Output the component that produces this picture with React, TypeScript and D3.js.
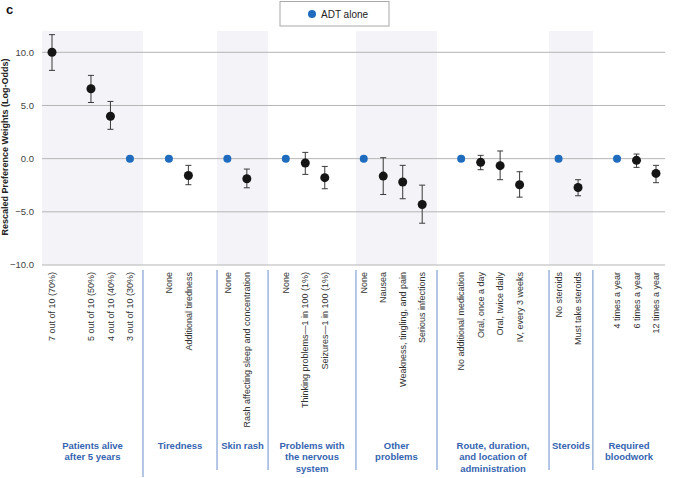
import React from "react";
import * as d3 from "d3";

// ---- data ----
const groupNames = [
  "Patients alive|after 5 years",
  "Tiredness",
  "Skin rash",
  "Problems with|the nervous|system",
  "Other|problems",
  "Route, duration,|and location of|administration",
  "Steroids",
  "Required|bloodwork",
];

const levelLabels = [
  "7 out of 10 (70%)", "", "5 out of 10 (50%)", "4 out of 10 (40%)", "3 out of 10 (30%)",
  "None", "Additional tiredness",
  "None", "Rash affecting sleep and concentration",
  "None", "Thinking problems\u20141 in 100 (1%)", "Seizures\u20141 in 100 (1%)",
  "None", "Nausea", "Weakness, tingling, and pain", "Serious infections",
  "No additional medication", "Oral, once a day", "Oral, twice daily", "IV, every 3 weeks",
  "No steroids", "Must take steroids",
  "4 times a year", "6 times a year", "12 times a year",
];

const levelGroup = [0, 0, 0, 0, 0, 1, 1, 2, 2, 3, 3, 3, 4, 4, 4, 4, 5, 5, 5, 5, 6, 6, 7, 7, 7];

const estimates: (number | null)[] = [
  10.0, null, 6.57, 3.99, 0,
  0, -1.58,
  0, -1.89,
  0, -0.41, -1.79,
  0, -1.64, -2.2, -4.31,
  0, -0.35, -0.66, -2.45,
  0, -2.71,
  0, -0.16, -1.39,
];

const lowerCI: (number | null)[] = [
  8.3, null, 5.28, 2.76, null,
  null, -2.45,
  null, -2.74,
  null, -1.48, -2.83,
  null, -3.37, -3.77, -6.07,
  null, -1.04, -1.98, -3.62,
  null, -3.49,
  null, -0.82, -2.26,
];

const upperCI: (number | null)[] = [
  11.66, null, 7.83, 5.38, null,
  null, -0.63,
  null, -0.98,
  null, 0.59, -0.73,
  null, 0.09, -0.63, -2.49,
  null, 0.31, 0.72, -1.23,
  null, -1.98,
  null, 0.43, -0.63,
];

const isReference = [
  false, false, false, false, true,
  true, false,
  true, false,
  true, false, false,
  true, false, false, false,
  true, false, false, false,
  true, false,
  true, false, false,
];

const yTicks = [10, 5, 0, -5, -10];
const legendLabel = "ADT alone";
const yTitle = "Rescaled Preference Weights (Log-Odds)";
const panelLetter = "c";

// ---- layout ----
const W = 679;
const H = 478;
const FONT = "'Liberation Sans', Arial, Helvetica, sans-serif";
const BLUE = "#1f6cbf";
const GROUP_BLUE = "#3564b0";
const SEP_BLUE = "#8ca8d8";
const BAND = "#f3f3f8";

// divider positions between groups, in slot units
const dividerSlots = [4.67, 8.47, 11.09, 15.6, 19.76, 25.51, 27.76];

export default function App() {
  // slot index for each level: sequential, with one empty slot between groups
  const slots: number[] = [];
  let s = 0;
  levelLabels.forEach((_, i) => {
    if (i > 0 && levelGroup[i] !== levelGroup[i - 1]) s += 1;
    slots.push(s);
    s += 1;
  });
  const lastSlot = slots[slots.length - 1];

  const x = d3.scaleLinear().domain([0, lastSlot]).range([52, 656]);
  const y = d3.scaleLinear().domain([-10, 10]).range([265, 52.3]);

  const plotLeft = x(-0.51);
  const plotRight = x(lastSlot + 0.47);
  const plotTop = y(12);
  const plotBottom = y(-10);

  const bounds = [-0.51, ...dividerSlots, lastSlot + 0.47];

  const labelTop = 272;
  const sepTop = 270;

  return (
    <svg
      width={W}
      height={H}
      style={{ position: "absolute", left: 0, top: 0, background: "#fff" }}
      fontFamily={FONT}
    >
      <rect x={0} y={0} width={W} height={H} fill="#fff" />
      {/* shaded bands */}
      {groupNames.map((_, g) =>
        g % 2 === 0 ? (
          <rect
            key={"band" + g}
            x={x(bounds[g])}
            y={plotTop}
            width={x(bounds[g + 1]) - x(bounds[g])}
            height={plotBottom - plotTop}
            fill={BAND}
          />
        ) : null
      )}
      {/* gridlines */}
      {yTicks.map((t) => (
        <line
          key={"g" + t}
          x1={plotLeft}
          x2={plotRight}
          y1={y(t)}
          y2={y(t)}
          stroke="#b5b5b5"
          strokeWidth={1}
        />
      ))}
      {/* y tick labels */}
      {yTicks.map((t) => (
        <text
          key={"t" + t}
          x={34}
          y={y(t)}
          dy="0.35em"
          textAnchor="end"
          fontSize={9.5}
          fill="#444"
        >
          {d3.format(".1f")(t)}
        </text>
      ))}
      {/* y title */}
      <text
        transform={`translate(8,${147}) rotate(-90)`}
        textAnchor="middle"
        fontSize={9}
        fontWeight="bold"
        fill="#222"
      >
        {yTitle}
      </text>
      {/* panel letter */}
      <text x={6} y={14} fontSize={13} fontWeight="bold" fill="#111">
        {panelLetter}
      </text>
      {/* legend */}
      <rect x={280} y={1.5} width={109} height={24.5} fill="#fff" stroke="#a8a8a8" strokeWidth={1} />
      <circle cx={312} cy={14} r={4} fill={BLUE} />
      <text x={321} y={14} dy="0.35em" fontSize={10} fill="#222">
        {legendLabel}
      </text>
      {/* error bars */}
      {estimates.map((v, i) =>
        v !== null && lowerCI[i] !== null && upperCI[i] !== null ? (
          <g key={"e" + i} stroke="#3a3a3a" strokeWidth={1}>
            <line x1={x(slots[i])} x2={x(slots[i])} y1={y(lowerCI[i] as number)} y2={y(upperCI[i] as number)} />
            <line x1={x(slots[i]) - 3} x2={x(slots[i]) + 3} y1={y(lowerCI[i] as number)} y2={y(lowerCI[i] as number)} />
            <line x1={x(slots[i]) - 3} x2={x(slots[i]) + 3} y1={y(upperCI[i] as number)} y2={y(upperCI[i] as number)} />
          </g>
        ) : null
      )}
      {/* points */}
      {estimates.map((v, i) =>
        v !== null ? (
          <circle
            key={"p" + i}
            cx={x(slots[i])}
            cy={y(v)}
            r={isReference[i] ? 4 : 4.5}
            fill={isReference[i] ? BLUE : "#151515"}
          />
        ) : null
      )}
      {/* x labels */}
      {levelLabels.map((l, i) =>
        l ? (
          <text
            key={"l" + i}
            transform={`translate(${x(slots[i])},${labelTop}) rotate(-90)`}
            dy="0.35em"
            textAnchor="end"
            fontSize={9}
            fill="#333"
          >
            {l}
          </text>
        ) : null
      )}
      {/* separators */}
      {dividerSlots.map((d, k) => (
        <line
          key={"s" + k}
          x1={x(d)}
          x2={x(d)}
          y1={sepTop}
          y2={k === 0 ? 477 : 470}
          stroke={SEP_BLUE}
          strokeWidth={1.3}
        />
      ))}
      {/* group labels */}
      {groupNames.map((g, k) => {
        const cx = (x(bounds[k]) + x(bounds[k + 1])) / 2;
        return (
          <text
            key={"gl" + k}
            x={cx}
            y={449}
            textAnchor="middle"
            fontSize={9.5}
            fontWeight="bold"
            fill={GROUP_BLUE}
          >
            {g.split("|").map((line, j) => (
              <tspan key={j} x={cx} dy={j === 0 ? 0 : 11.3}>
                {line}
              </tspan>
            ))}
          </text>
        );
      })}
    </svg>
  );
}
